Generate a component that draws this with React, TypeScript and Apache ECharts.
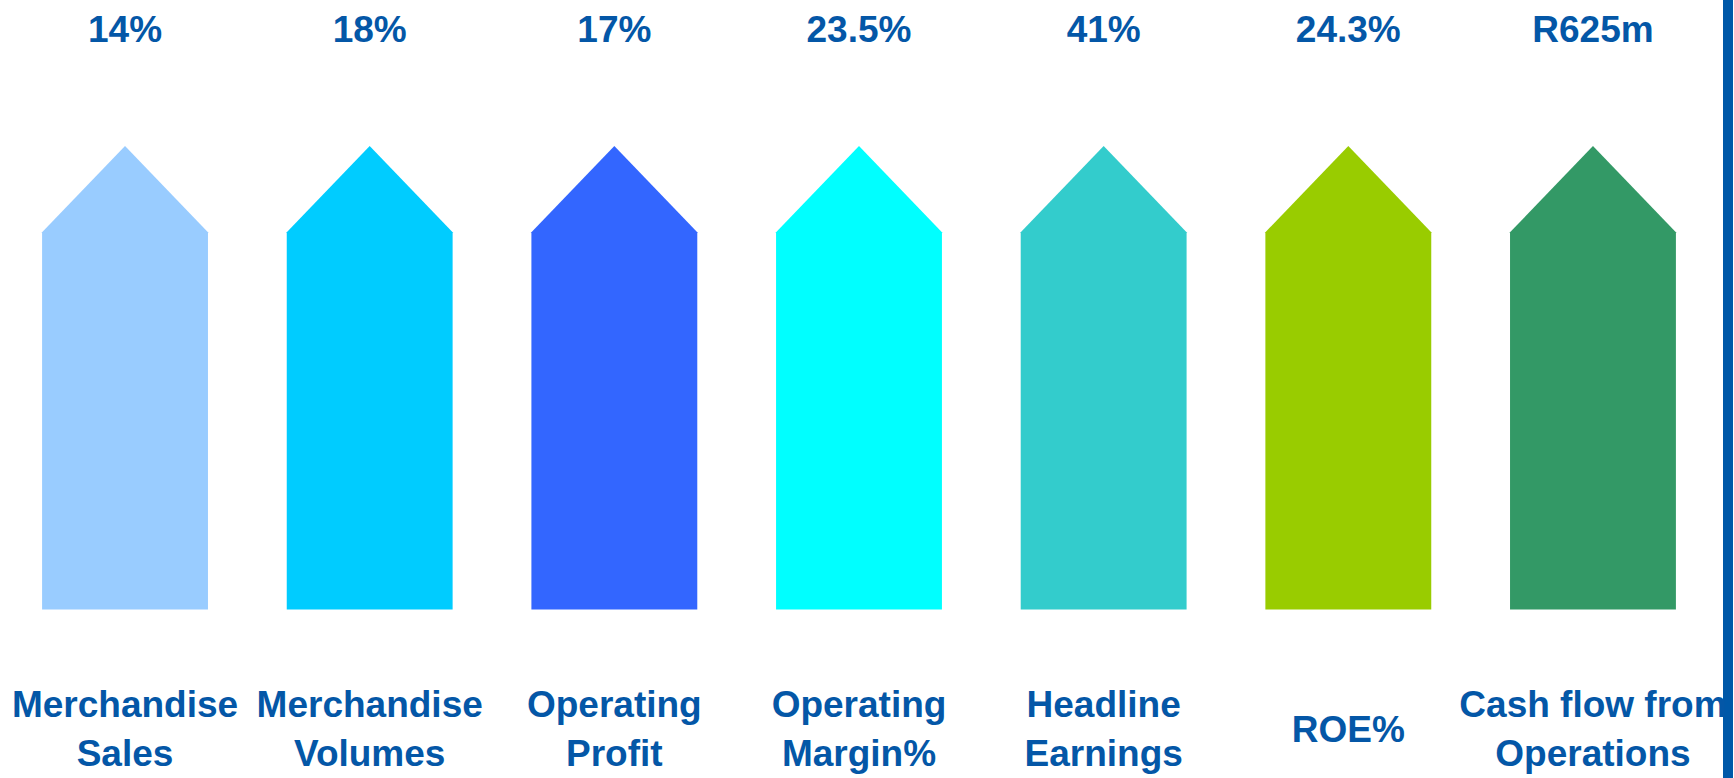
import React, { useEffect, useRef } from "react";
import * as echarts from "echarts";

// Data
const categories = [
  "Merchandise\nSales",
  "Merchandise\nVolumes",
  "Operating\nProfit",
  "Operating\nMargin%",
  "Headline\nEarnings",
  "ROE%",
  "Cash flow from\nOperations",
];
const valueLabels = ["14%", "18%", "17%", "23.5%", "41%", "24.3%", "R625m"];
// every arrow in the reference is the same height (an "up" indicator)
const arrowLevels = [1, 1, 1, 1, 1, 1, 1];
const arrowColors = ["#99CCFF", "#00CCFF", "#3366FF", "#00FFFF", "#33CCCC", "#99CC00", "#339966"];

const TEXT_COLOR = "#0457A7";
const FONT = "'Liberation Sans', Arial, sans-serif";

export default function App() {
  const ref = useRef<HTMLDivElement>(null);

  useEffect(() => {
    if (!ref.current) return;
    const chart = echarts.init(ref.current, undefined, { renderer: "svg" });
    const labelBase = {
      interval: 0,
      fontSize: 37,
      fontWeight: "bold" as const,
      color: TEXT_COLOR,
      fontFamily: FONT,
    };
    chart.setOption({
      animation: false,
      backgroundColor: "#ffffff",
      grid: { left: 2.7, right: 18.7, top: 146, bottom: 159, containLabel: false },
      xAxis: [
        {
          type: "category",
          data: categories,
          position: "bottom",
          axisLine: { show: false },
          axisTick: { show: false },
          splitLine: { show: false },
          axisLabel: { ...labelBase, margin: 119.5, verticalAlign: "middle", lineHeight: 49, align: "center" },
        },
        {
          type: "category",
          data: valueLabels,
          position: "top",
          axisLine: { show: false },
          axisTick: { show: false },
          splitLine: { show: false },
          axisLabel: { ...labelBase, margin: 98 },
        },
      ],
      yAxis: { type: "value", min: 0, max: 1, show: false, splitLine: { show: false } },
      series: [
        {
          type: "custom",
          xAxisIndex: 0,
          data: arrowLevels.map((v, i) => [i, v]),
          renderItem: (params: any, api: any) => {
            const top = api.coord([api.value(0), api.value(1)]);
            const base = api.coord([api.value(0), 0]);
            const band = api.size([1, 0])[0];
            const half = (band * 0.678) / 2;
            const headH = (half * 1.04 * (by_scale(top[1], base[1])));
            const cx = top[0];
            const ty = top[1];
            const by = base[1];
            return {
              type: "polygon",
              shape: {
                points: [
                  [cx - half, by],
                  [cx - half, ty + headH],
                  [cx, ty],
                  [cx + half, ty + headH],
                  [cx + half, by],
                ],
              },
              style: { fill: arrowColors[params.dataIndex % arrowColors.length] },
            };
          },
        },
      ],
      graphic: [
        {
          type: "rect",
          left: 1723,
          top: 0,
          shape: { width: 10, height: 778 },
          style: { fill: "#0058A8" },
        },
      ],
    });
    return () => chart.dispose();
  }, []);

  return (
    <div
      ref={ref}
      style={{ position: "fixed", left: 0, top: 0, width: 1734, height: 778 }}
    />
  );
}

// head height stays fixed regardless of arrow length
function by_scale(_t: number, _b: number) {
  return 1;
}
